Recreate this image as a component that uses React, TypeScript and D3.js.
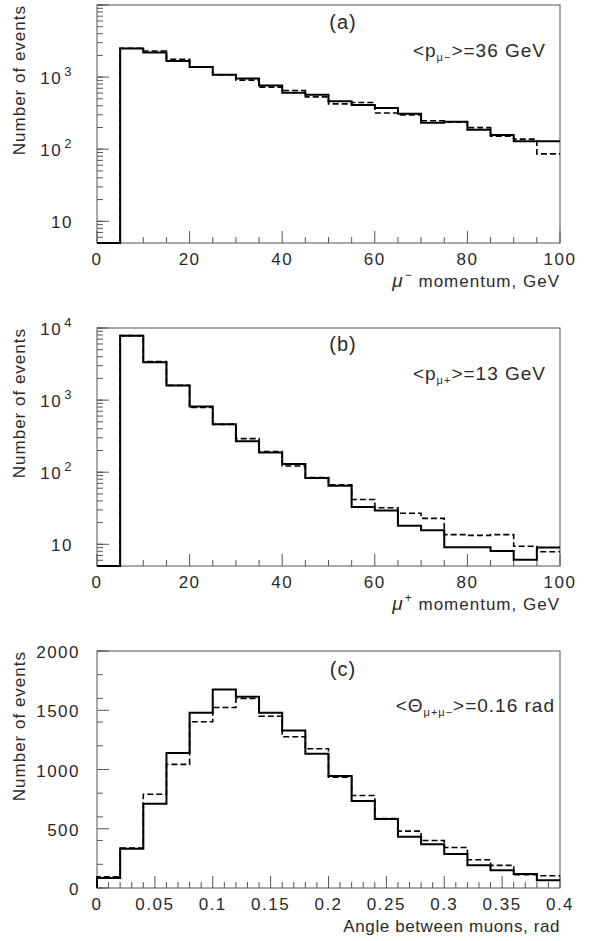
import * as d3 from "d3";

// bin edges
const momentumEdges = [0, 5, 10, 15, 20, 25, 30, 35, 40, 45, 50, 55, 60, 65, 70, 75, 80, 85, 90, 95, 100];
const angleEdges = [0, 0.02, 0.04, 0.06, 0.08, 0.1, 0.12, 0.14, 0.16, 0.18, 0.2, 0.22, 0.24, 0.26, 0.28, 0.3, 0.32, 0.34, 0.36, 0.38, 0.4];

// (a) mu- momentum
const muMinusSolid = [0, 2485, 2190, 1670, 1380, 1080, 958, 765, 605, 567, 462, 411, 373, 311, 233, 240, 186, 157, 129, 129];
const muMinusDashed = [0, 2510, 2305, 1765, 1380, 1080, 908, 725, 652, 532, 425, 444, 318, 298, 248, 236, 199, 152, 138, 86];

// (b) mu+ momentum
const muPlusSolid = [0, 7830, 3350, 1600, 817, 461, 268, 187, 130, 83, 65, 32.8, 29.5, 18.1, 15.6, 9.1, 9.1, 8.1, 6.1, 9.0];
const muPlusDashed = [0, 7830, 3430, 1600, 793, 461, 292, 193, 122, 84, 67, 41.9, 32.1, 26.9, 22.9, 13.6, 13.3, 13.6, 9.4, 7.9];

// (c) opening angle
const angleSolid = [85, 331, 710, 1139, 1478, 1675, 1613, 1478, 1330, 1133, 945, 735, 583, 432, 370, 286, 191, 149, 118, 65];
const angleDashed = [95, 337, 791, 1043, 1403, 1523, 1599, 1450, 1276, 1175, 934, 780, 586, 480, 401, 342, 238, 191, 112, 104];

// tick labels
const momentumTickLabels = [0, 20, 40, 60, 80, 100];
const angleTickLabels = [0, 0.05, 0.1, 0.15, 0.2, 0.25, 0.3, 0.35, 0.4];
const logLabelsA = [10, 100, 1000];
const logLabelsB = [10, 100, 1000, 10000];
const linLabelsC = [0, 500, 1000, 1500, 2000];

const W = 589;
const H = 941;
const left = 97;
const right = 560;
const FONT = "'Liberation Sans', Arial, sans-serif";
const frameColor = "#555";
const textColor = "#2a2a2a";

type Panel = {
  top: number;
  bottom: number;
  edges: number[];
  solid: number[];
  dashed: number[];
  log: boolean;
  yDomain: [number, number];
  yLabels: number[];
  xLabels: number[];
  xMajor: number;
  xMinor: number;
  tag: string;
  tagY: number;
  note: "pm" | "pp" | "th";
  noteY: number;
  title: "mm" | "mp" | "ang";
};

const panels: Panel[] = [
  {
    top: 5, bottom: 243, edges: momentumEdges, solid: muMinusSolid, dashed: muMinusDashed,
    log: true, yDomain: [5, 10000], yLabels: logLabelsA, xLabels: momentumTickLabels,
    xMajor: 20, xMinor: 5, tag: "(a)", tagY: 29, note: "pm", noteY: 57, title: "mm",
  },
  {
    top: 328, bottom: 566, edges: momentumEdges, solid: muPlusSolid, dashed: muPlusDashed,
    log: true, yDomain: [5, 10000], yLabels: logLabelsB, xLabels: momentumTickLabels,
    xMajor: 20, xMinor: 5, tag: "(b)", tagY: 351, note: "pp", noteY: 380, title: "mp",
  },
  {
    top: 651, bottom: 888, edges: angleEdges, solid: angleSolid, dashed: angleDashed,
    log: false, yDomain: [0, 2000], yLabels: linLabelsC, xLabels: angleTickLabels,
    xMajor: 0.05, xMinor: 0.01, tag: "(c)", tagY: 676, note: "th", noteY: 712, title: "ang",
  },
];

const supMap: Record<string, string> = { "100": "2", "1000": "3", "10000": "4" };

function HistPanel({ p }: { p: Panel }) {
  const x = d3.scaleLinear().domain([p.edges[0], p.edges[p.edges.length - 1]]).range([left, right]);
  const y = p.log
    ? d3.scaleLog().domain(p.yDomain).range([p.bottom, p.top])
    : d3.scaleLinear().domain(p.yDomain).range([p.bottom, p.top]);
  const yv = (v: number) => y(Math.max(v, p.yDomain[0]));

  const stepPath = (vals: number[]) => {
    const pts: [number, number][] = [[x(p.edges[0]), p.bottom]];
    vals.forEach((v, i) => {
      pts.push([x(p.edges[i]), yv(v)]);
      pts.push([x(p.edges[i + 1]), yv(v)]);
    });
    return d3.line()(pts) || "";
  };

  const [x0, x1] = x.domain();
  const nMinor = Math.round((x1 - x0) / p.xMinor);
  const xMinorTicks = d3.range(nMinor + 1).map((i) => x0 + i * p.xMinor);
  const isMajorX = (t: number) => Math.abs(t / p.xMajor - Math.round(t / p.xMajor)) < 1e-6;

  let yMinor: number[] = [];
  let yMajor: number[] = [];
  if (p.log) {
    yMinor = (y as d3.ScaleLogarithmic<number, number>).ticks();
    yMajor = yMinor.filter((t) => Math.abs(Math.log10(t) - Math.round(Math.log10(t))) < 1e-9);
  } else {
    yMinor = (y as d3.ScaleLinear<number, number>).ticks(8);
    yMajor = (y as d3.ScaleLinear<number, number>).ticks(4);
  }

  const fmtX = (t: number) => (p.log ? String(t) : d3.format("~g")(t));

  return (
    <g>
      {/* frame */}
      <rect x={left} y={p.top} width={right - left} height={p.bottom - p.top} fill="none" stroke={frameColor} strokeWidth={1} />
      {/* x ticks */}
      {xMinorTicks.map((t, i) => (
        <line key={"xt" + i} x1={x(t)} x2={x(t)} y1={p.bottom} y2={p.bottom - (isMajorX(t) ? 12 : 6)} stroke={frameColor} strokeWidth={1} />
      ))}
      {/* y ticks */}
      {yMinor.map((t, i) => (
        <line key={"ytm" + i} x1={left} x2={left + 6} y1={y(t)} y2={y(t)} stroke={frameColor} strokeWidth={1} />
      ))}
      {yMajor.map((t, i) => (
        <line key={"ytM" + i} x1={left} x2={left + 12} y1={y(t)} y2={y(t)} stroke={frameColor} strokeWidth={1} />
      ))}
      {/* x labels */}
      {p.xLabels.map((t, i) => (
        <text key={"xl" + i} x={x(t)} y={p.bottom + 22} textAnchor="middle" fontSize={17} letterSpacing={1.5} fill={textColor}>
          {fmtX(t)}
        </text>
      ))}
      {/* y labels */}
      {p.yLabels.map((t, i) =>
        p.log && supMap[String(t)] ? (
          <text key={"yl" + i} x={73} y={y(t) + 7} textAnchor="end" fontSize={17} letterSpacing={1.5} fill={textColor}>
            10
            <tspan dx={2} dy={-8} fontSize={13}>{supMap[String(t)]}</tspan>
          </text>
        ) : (
          <text key={"yl" + i} x={p.log ? 73 : 80} y={y(t) + 7} textAnchor="end" fontSize={17} letterSpacing={1.5} fill={textColor}>
            {t}
          </text>
        )
      )}
      {/* histograms */}
      <path d={stepPath(p.dashed)} fill="none" stroke="#000" strokeWidth={1.6} strokeDasharray="6,3" />
      <path d={stepPath(p.solid)} fill="none" stroke="#000" strokeWidth={2} />
      {/* tag */}
      <text x={343} y={p.tagY} textAnchor="middle" fontSize={20} letterSpacing={1} fill={textColor}>{p.tag}</text>
      {/* mean annotation */}
      {p.note === "th" ? (
        <text x={555} y={p.noteY} textAnchor="end" fontSize={19} letterSpacing={1} fill={textColor}>
          {"<Θ"}
          <tspan dy={4} fontSize={11}>{"μ+μ−"}</tspan>
          <tspan dy={-4}>{">=0.16 rad"}</tspan>
        </text>
      ) : (
        <text x={546} y={p.noteY} textAnchor="end" fontSize={19} letterSpacing={1} fill={textColor}>
          {"<p"}
          <tspan dy={4} fontSize={11}>{p.note === "pm" ? "μ−" : "μ+"}</tspan>
          <tspan dy={-4}>{p.note === "pm" ? ">=36 GeV" : ">=13 GeV"}</tspan>
        </text>
      )}
      {/* x title */}
      {p.title === "ang" ? (
        <text x={right} y={p.bottom + 44} textAnchor="end" fontSize={17} letterSpacing={0.6} fill={textColor}>
          Angle between muons, rad
        </text>
      ) : (
        <text x={right} y={p.bottom + 44} textAnchor="end" fontSize={17} letterSpacing={1} fill={textColor}>
          <tspan fontStyle="italic" fontSize={19}>μ</tspan>
          <tspan dx={1} dy={-8} fontSize={12}>{p.title === "mm" ? "−" : "+"}</tspan>
          <tspan dy={8}>{" momentum, GeV"}</tspan>
        </text>
      )}
      {/* y title */}
      <text
        transform={`translate(25,${p.top}) rotate(-90)`}
        textAnchor="end"
        fontSize={17}
        letterSpacing={1}
        fill={textColor}
      >
        Number of events
      </text>
    </g>
  );
}

export default function App() {
  return (
    <svg
      width={W}
      height={H}
      viewBox={`0 0 ${W} ${H}`}
      style={{ position: "absolute", left: 0, top: 0, background: "#fff" }}
      fontFamily={FONT}
    >
      <rect width={W} height={H} fill="#fff" />
      {panels.map((p, i) => (
        <HistPanel key={i} p={p} />
      ))}
    </svg>
  );
}
